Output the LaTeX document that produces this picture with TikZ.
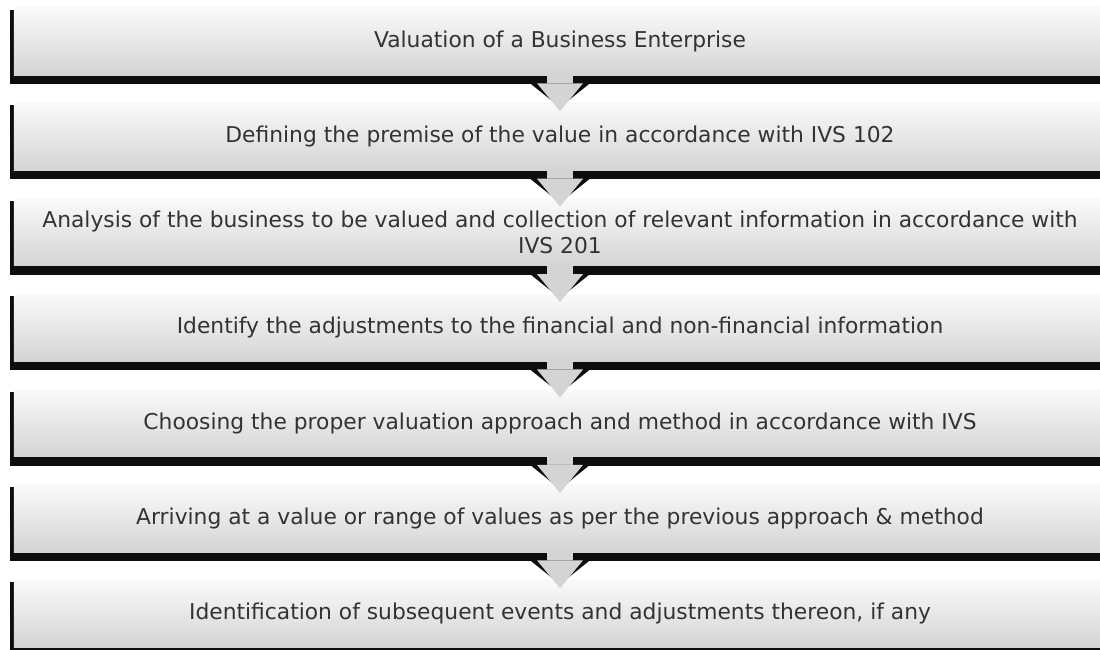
\documentclass[tikz,border=0pt]{standalone}
\usepackage{fontspec}
\setmainfont{DejaVu Sans}
\usetikzlibrary{calc}

\tikzset{
  stepbox/.style={rectangle,inner sep=0pt,minimum width=27.3cm,minimum height=1.675cm,
    top color=black!2,middle color=black!6,bottom color=black!17,
    align=center,text=black!80,font=\fontsize{15.5}{18}\selectfont},
  boxshade/.style={fill=black!95},
  chevron/.style={fill=black!17},
}

\begin{document}
\begin{tikzpicture}[x=0.025cm,y=-0.025cm]
  \useasboundingbox (0,0) rectangle (1100,650);
  \clip (0,0) rectangle (1100,650);
  \foreach \i/\txt in {1/Valuation of a Business Enterprise,
      2/Defining the premise of the value in accordance with IVS 102,
      3/{Analysis of the business to be valued and collection of relevant information in accordance with\\IVS 201},
      4/Identify the adjustments to the financial and non-financial information,
      5/Choosing the proper valuation approach and method in accordance with IVS,
      6/Arriving at a value or range of values as per the previous approach \& method,
      7/{Identification of subsequent events and adjustments thereon, if any}}{
    \pgfmathsetmacro{\ytop}{8+95.4*(\i-1)}
    \fill[boxshade] (10,\ytop+2) rectangle (1106,\ytop+76);
    \node[stepbox] (b\i) at (560,\ytop+33.5) {\txt};
  }
  \foreach \i in {1,...,6}{
    \fill[chevron] ($(b\i.south)+(-13,0)$) rectangle ($(b\i.south)+(13,9)$);
    \fill[boxshade] ($(b\i.south)+(-30,8)$) -- ($(b\i.south)+(30,8)$) -- ($(b\i.south)+(0,32)$) -- cycle;
    \fill[chevron] ($(b\i.south)+(-23,8)$) -- ($(b\i.south)+(23,8)$) -- ($(b\i.south)+(0,36)$) -- cycle;
  }
\end{tikzpicture}
\end{document}
